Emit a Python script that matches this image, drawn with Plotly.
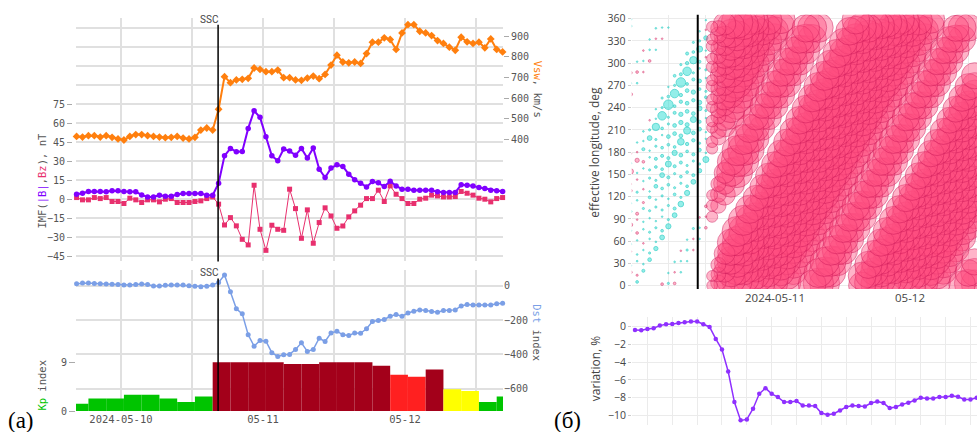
import numpy as np
import pandas as pd
import plotly.graph_objects as go

W, H = 977, 432          # target picture size
H_LAYOUT = 439           # page height that the photograph is squeezed from

# ---------------- panel (a) data ----------------
t_a = pd.date_range('2024-05-09 16:30', periods=73, freq='h')
vsw = [414, 411, 418, 418, 411, 418, 410, 402, 397, 414,
       423, 423, 418, 414, 411, 408, 410, 414, 406, 402,
       410, 445, 455, 445, 546, 704, 675, 688, 691, 696,
       746, 739, 728, 728, 736, 699, 699, 688, 686, 697,
       707, 694, 715, 760, 808, 775, 771, 775, 768, 816,
       871, 871, 892, 884, 836, 916, 956, 956, 924, 916,
       903, 879, 865, 847, 832, 895, 873, 865, 871, 844,
       887, 836, 824]
imf_b = [3.9, 4.7, 6.1, 6.1, 6.1, 5.8, 6.6, 6.6, 6.1, 5.8,
         5.8, 3.4, 1.8, 1.8, 3.2, 2.4, 2.4, 3.7, 4.5, 4.5,
         4.5, 4.5, 3.2, 3.2, 12.6, 34.2, 40.0, 37.4, 37.6, 55.8,
         69.7, 64.5, 49.2, 34.2, 30.3, 39.5, 37.9, 34.7, 40.0, 32.4,
         40.3, 23.7, 17.1, 24.5, 27.1, 25.8, 19.7, 15.3, 12.6, 9.7,
         13.9, 12.9, 10.0, 14.2, 10.5, 7.9, 7.9, 7.1, 7.1, 7.1,
         7.1, 5.8, 5.3, 5.3, 5.3, 11.3, 11.1, 10.5, 9.2, 8.4,
         7.1, 6.6, 6.1]
imf_bz = [1.3, -0.5, -0.5, 1.3, 0.5, 1.3, -1.8, -1.8, -3.4, 0.8,
          -0.5, -2.6, -0.5, -0.5, -2.1, 0.0, 0.5, -2.6, -2.6, -2.6,
          -1.8, -1.3, 0.5, 1.8, -3.9, -20.3, -14.5, -21.0, -31.6, -36.0,
          11.0, -23.7, -40.3, -20.5, -23.7, -24.5, 7.9, -7.4, -30.8, -8.4,
          -34.7, -18.4, -6.8, -13.2, -22.9, -21.1, -13.9, -9.2, -4.7, 0.5,
          0.5, 7.1, -1.8, 10.5, 3.9, 0.5, -3.4, -3.4, 0.0, 0.8,
          3.2, 2.6, 1.8, 1.8, 2.1, 6.1, 4.7, 3.2, 0.8, 0.0,
          -2.1, 0.5, 1.3]
dst = [11, 15, 15, 13, 11, 9, 8, 6, 4, 4,
       6, 9, 6, -2, -2, 2, 4, 4, 4, 0,
       -4, -6, -4, 4, 19, 62, -35, -135, -164, -286,
       -352, -319, -323, -390, -412, -402, -400, -371, -333, -383,
       -371, -306, -325, -275, -265, -286, -290, -275, -277, -251,
       -209, -203, -197, -178, -168, -178, -159, -149, -141, -145,
       -151, -155, -145, -145, -141, -118, -110, -112, -112, -112,
       -112, -106, -103]
kp_t = pd.date_range('2024-05-09 17:00', periods=25, freq='3h')
kp = [1.33, 2.33, 2.33, 3.0, 3.0, 2.33, 1.67, 2.67,
      9.0, 9.0, 9.0, 9.0, 8.67, 8.67, 9.0, 9.0, 9.0, 8.33,
      6.67, 6.33, 7.67, 4.0, 3.67, 1.67, 2.67]
ssc_a = '2024-05-10 16:25'
xticks_a = ['2024-05-10 00:00', '2024-05-10 12:00', '2024-05-11 00:00',
            '2024-05-11 12:00', '2024-05-12 00:00', '2024-05-12 12:00']
xlabels_a = ['2024-05-10', '', '05-11', '', '05-12', '']

# ---------------- panel (б) data ----------------
t_b = pd.date_range('2024-05-10 06:00', periods=56, freq='h')
var_pct = [-0.37, -0.41, -0.26, -0.19, 0.11, 0.26, 0.30, 0.41, 0.49, 0.56,
           0.56, 0.26, -0.04, -1.39, -2.58, -5.06, -8.50, -10.56, -10.45, -9.25,
           -7.57, -6.93, -7.57, -7.94, -8.50, -8.50, -8.39, -8.88, -8.88, -8.95,
           -9.74, -9.93, -9.81, -9.44, -9.06, -8.88, -8.95, -8.99, -8.61, -8.43,
           -8.61, -9.18, -9.06, -8.76, -8.58, -8.31, -8.01, -8.09, -8.09, -7.94,
           -7.94, -7.79, -7.90, -8.20, -8.20, -8.01]
# effective longitude of each station at 2024-05-11 00:00 UT
station_lon = [260, 269, 288, 297, 316, 326, 344, 352, 10, 21, 38, 47, 64, 75, 88,
               168, 183, 197]
station_factor = [1.0, 1.05, 0.95, 1.1, 1.0, 0.95, 1.1, 0.95, 1.05, 0.95, 1.1, 1.0, 1.0,
                  0.9, 0.95, 1.0, 1.05, 0.95]
# hourly variations (%) of each station before the storm onset (06-18 UT, 10 May)
station_pre = [
    [0.05, 0.08, 0.10, 0.15, 0.20, 0.25, 0.30, 0.25, 0.35, 0.30, 0.25, 0.20, 0.40],
    [0.03, -0.05, 0.03, 0.05, 0.03, 0.08, 0.05, 0.10, 0.05, 0.08, 0.10, 0.05, 0.03],
    [-0.08, 0.03, 0.02, 0.03, 0.05, 0.02, 0.05, 0.08, 0.05, 0.08, 0.05, 0.12, 0.02],
    [0.02, 0.03, -0.03, 0.05, 0.02, 0.05, 0.03, 0.05, 0.08, 0.05, 0.10, 0.05, 0.02],
    [-0.03, 0.02, 0.03, 0.02, 0.05, 0.05, 0.08, 0.05, 0.10, 0.08, 0.12, 0.15, 0.02],
    [0.03, -0.08, 0.02, 0.05, 0.03, 0.08, 0.10, 0.10, 0.15, 0.12, 0.15, 0.10, 0.05],
    [0.03, -0.03, 0.05, 0.08, 0.15, 0.25, 0.40, 0.30, 0.50, 0.55, 0.40, 0.25, 0.08],
    [-0.15, -0.10, -0.05, 0.02, 0.05, 0.08, 0.10, 0.08, 0.15, 0.18, 0.15, 0.20, 0.05],
    [0.05, 0.03, -0.03, 0.05, 0.08, 0.10, 0.08, 0.15, 0.20, 0.15, 0.12, 0.08, 0.02],
    [0.02, 0.05, 0.02, 0.05, 0.10, 0.08, 0.15, 0.15, 0.20, 0.15, 0.20, 0.15, 0.05],
    [-0.08, -0.03, 0.02, 0.03, 0.05, 0.02, 0.05, 0.10, 0.12, 0.15, 0.10, 0.03, -0.03],
    [-0.03, 0.02, -0.08, 0.02, 0.05, 0.08, 0.05, 0.08, 0.12, 0.08, 0.05, 0.08, 0.02],
    [-0.30, -0.20, 0.10, 0.25, 0.60, 0.80, 1.00, 0.80, 1.00, 0.80, 0.60, 0.40, 0.20],
    [0.03, -0.03, 0.02, 0.05, 0.02, 0.05, 0.08, 0.05, 0.10, 0.12, 0.08, 0.05, -0.03],
    [-0.03, 0.02, 0.03, -0.03, 0.02, 0.05, 0.02, 0.08, 0.05, 0.10, 0.05, 0.02, 0.02],
    [-0.12, 0.03, -0.03, -0.08, 0.02, -0.03, 0.02, -0.08, 0.03, 0.02, -0.03, 0.02, -0.08],
    [0.03, -0.08, 0.02, 0.03, -0.03, 0.02, 0.05, -0.03, 0.02, 0.05, -0.03, 0.02, -0.03],
    [-0.08, 0.02, -0.03, 0.02, 0.03, -0.08, 0.02, 0.03, -0.03, 0.02, 0.05, -0.03, -0.08],
]
ssc_b = '2024-05-10 16:42'
lon_ref_time = pd.Timestamp('2024-05-11 00:00')
EARTH_ROT = 15.0  # deg per hour

# ---------------- helpers ----------------
def fx(p):
    return p / W

def fy(p):
    return 1 - p / H

MONO = 'DejaVu Sans Mono'
SANS = 'Open Sans'
GREY = '#555555'
GRID_A = '#e0e0e0'
GRID_B = '#ebebeb'
C_VSW, C_B, C_BZ, C_DST = '#ff7f0e', '#8000ff', '#e8306e', '#7b9fe6'

fig = go.Figure()

def kp_color(v):
    if v >= 7.5:
        return '#a3001a'
    if v >= 5.5:
        return '#ff2020'
    if v >= 3.5:
        return '#ffff00'
    return '#00c400'

fig.add_trace(go.Bar(x=kp_t, y=kp, width=3 * 3600 * 1000,
                     marker=dict(color=[kp_color(v) for v in kp], line=dict(width=0)),
                     xaxis='x2', yaxis='y4', hoverinfo='skip'))
fig.add_trace(go.Scatter(x=t_a, y=dst, mode='lines+markers', xaxis='x2', yaxis='y3',
                         line=dict(color=C_DST, width=1.5),
                         marker=dict(size=5, color=C_DST), cliponaxis=False))
fig.add_trace(go.Scatter(x=t_a, y=imf_bz, mode='lines+markers', xaxis='x', yaxis='y',
                         line=dict(color=C_BZ, width=1),
                         marker=dict(size=5, symbol='square', color=C_BZ), cliponaxis=False))
fig.add_trace(go.Scatter(x=t_a, y=imf_b, mode='lines+markers', xaxis='x', yaxis='y',
                         line=dict(color=C_B, width=2),
                         marker=dict(size=5.5, color=C_B), cliponaxis=False))
fig.add_trace(go.Scatter(x=t_a, y=vsw, mode='lines+markers', xaxis='x', yaxis='y2',
                         line=dict(color=C_VSW, width=2),
                         marker=dict(size=6, symbol='diamond', color=C_VSW), cliponaxis=False))

# bubbles
hrs = (t_b - lon_ref_time) / pd.Timedelta(hours=1)
bx = {1: [], -1: []}
by = {1: [], -1: []}
bs = {1: [], -1: []}
for si, L in enumerate(station_lon):
    pre = station_pre[si]
    for k, t in enumerate(t_b):
        v = pre[k] if k < len(pre) else var_pct[k] * station_factor[si]
        sgn = 1 if v >= 0 else -1
        bx[sgn].append(t)
        by[sgn].append((L + EARTH_ROT * hrs[k]) % 360)
        bs[sgn].append(max(1.5, 9.5 * np.sqrt(abs(v))))

fig.add_trace(go.Scatter(x=bx[1], y=by[1], mode='markers', xaxis='x3', yaxis='y5',
                         marker=dict(size=bs[1], color='rgba(40,222,212,0.7)',
                                     line=dict(color='rgba(20,200,190,0.9)', width=1))))
fig.add_trace(go.Scatter(x=bx[-1], y=by[-1], mode='markers', xaxis='x3', yaxis='y5',
                         marker=dict(size=bs[-1], color='rgba(255,78,128,0.6)',
                                     line=dict(color='rgba(205,25,90,0.7)', width=1))))
fig.add_trace(go.Scatter(x=t_b, y=var_pct, mode='lines+markers', xaxis='x4', yaxis='y6',
                         line=dict(color='#8f30ff', width=1.5),
                         marker=dict(size=4.5, color='#8f30ff')))

tick_a = dict(family=MONO, size=10, color=GREY)
tick_b = dict(family=SANS, size=10.5, color='#444444')
RANGE_A = ['2024-05-09 16:24', '2024-05-12 16:34']

fig.update_layout(
    width=W, height=H_LAYOUT, margin=dict(l=0, r=0, t=0, b=0),
    paper_bgcolor='white', plot_bgcolor='white', showlegend=False,
    xaxis=dict(domain=[fx(76), fx(503)], anchor='y', type='date', range=RANGE_A,
               tickmode='array', tickvals=xticks_a, showticklabels=False,
               showgrid=True, gridcolor=GRID_A, gridwidth=1.5, zeroline=False, ticks=''),
    xaxis2=dict(domain=[fx(76), fx(503)], anchor='y3', type='date', range=RANGE_A,
                tickmode='array', tickvals=xticks_a, ticktext=xlabels_a,
                tickfont=dict(family=MONO, size=10.5, color=GREY),
                showgrid=True, gridcolor=GRID_A, gridwidth=1.5, zeroline=False, ticks=''),
    yaxis=dict(domain=[fy(259), fy(15)], anchor='free', position=fx(72),
               range=[-49, 142.8], tickmode='array', tickvals=list(range(-45, 76, 15)),
               ticks='outside', ticklen=5, tickcolor='#aaaaaa', tickfont=tick_a,
               showgrid=True, gridcolor=GRID_A, gridwidth=1.5, zeroline=False,
               minor=dict(tickmode='array', tickvals=[90, 105, 120, 135], showgrid=True,
                          gridcolor=GRID_A, gridwidth=1.5, ticks='')),
    yaxis2=dict(overlaying='y', side='right', anchor='free', position=fx(503),
                range=[-191.7, 988.5], tickmode='array', tickvals=[400, 500, 600, 700, 800, 900],
                ticks='outside', ticklen=5, tickcolor='#aaaaaa', tickfont=tick_a,
                showgrid=False, zeroline=False),
    yaxis3=dict(domain=[fy(409), fy(268)], anchor='free', side='right', position=fx(503),
                range=[-729.7, 88.8], tickmode='array', tickvals=[0, -200, -400, -600],
                ticks='', tickfont=tick_a,
                showgrid=True, gridcolor=GRID_A, gridwidth=1.5, zeroline=False),
    yaxis4=dict(overlaying='y3', side='left', anchor='free', position=fx(75),
                range=[0, 25.9], tickmode='array', tickvals=[0, 9],
                ticks='outside', ticklen=6, tickcolor='#aaaaaa', tickfont=tick_a,
                showgrid=False, zeroline=False),
    xaxis3=dict(domain=[fx(631.7), 1.0], anchor='y5', type='date',
                range=['2024-05-10 06:08', '2024-05-12 13:23'],
                tick0='2024-05-10 00:00', dtick=6 * 3600 * 1000, showticklabels=False,
                showgrid=True, gridcolor=GRID_B, zeroline=False, ticks=''),
    yaxis5=dict(domain=[fy(286.7), fy(11.7)], anchor='x3', range=[-4.6, 365.4],
                tick0=0, dtick=30, ticks='outside', ticklen=3, tickcolor='#cccccc',
                tickfont=tick_b, showgrid=True, gridcolor=GRID_B, zeroline=False),
    xaxis4=dict(domain=[fx(632), 1.0], anchor='y6', type='date',
                range=['2024-05-10 05:31', '2024-05-12 13:03'],
                tick0='2024-05-10 00:00', dtick=4 * 3600 * 1000, showticklabels=False,
                showgrid=True, gridcolor=GRID_B, zeroline=False, ticks=''),
    yaxis6=dict(domain=[fy(422.7), fy(315)], anchor='x4', range=[-11.05, 1.05],
                tick0=0, dtick=2, ticks='outside', ticklen=3, tickcolor='#cccccc',
                tickfont=tick_b, showgrid=True, gridcolor=GRID_B, zeroline=False),
)

# SSC lines
fig.add_shape(type='line', xref='x', yref='y domain', x0=ssc_a, x1=ssc_a, y0=0, y1=0.972,
              line=dict(color='black', width=1.5))
fig.add_shape(type='line', xref='x2', yref='y3 domain', x0=ssc_a, x1=ssc_a, y0=0, y1=0.943,
              line=dict(color='black', width=1.5))
fig.add_shape(type='line', xref='x3', yref='y5 domain', x0=ssc_b, x1=ssc_b, y0=0, y1=1,
              line=dict(color='black', width=2))

ann = []
def add_text(text, x, y, size, color='#555555', family=MONO, angle=0, xanchor='center',
             xref='paper', yref='paper', xshift=0):
    ann.append(dict(text=text, x=x, y=y, xref=xref, yref=yref, showarrow=False,
                    textangle=angle, xanchor=xanchor, yanchor='middle', xshift=xshift,
                    font=dict(family=family, size=size, color=color)))

add_text('SSC', ssc_a, fy(16.5), 10, '#444444', 'Roboto', xanchor='right', xref='x', xshift=3)
add_text('SSC', ssc_a, fy(270), 10, '#444444', 'Roboto', xanchor='right', xref='x2', xshift=3)
add_text('IMF(<span style="color:%s">|B|</span>,<span style="color:%s">Bz</span>), nT' % (C_B, C_BZ),
         fx(43), fy(178), 10.5, angle=-90)
add_text('<span style="color:%s">Vsw</span>, km/s' % C_VSW, fx(538), fy(86), 10.5, angle=90)
add_text('<span style="color:%s">Dst</span> index' % C_DST, fx(537), fy(330), 10.5, angle=90)
add_text('<span style="color:#00c400">Kp</span> index', fx(42.5), fy(383), 10.5, angle=-90)
add_text('(a)', fx(21), fy(418), 23, 'black', 'Liberation Serif')
add_text('(б)', fx(567), fy(418), 23, 'black', 'Liberation Serif')
add_text('effective longitude, deg', fx(595), fy(150), 12, '#444444', SANS, angle=-90)
add_text('variation, %', fx(595), fy(367), 12, '#444444', SANS, angle=-90)
add_text('2024-05-11', '2024-05-11 00:00', fy(295.5), 11.5, '#444444', SANS, xanchor='left', xref='x3')
add_text('05-12', '2024-05-12 00:00', fy(295.5), 11.5, '#444444', SANS, xanchor='left', xref='x3')
fig.update_layout(annotations=ann)

page_fix = (
    "document.documentElement.style.margin='0';"
    "document.documentElement.style.padding='0';"
    "document.documentElement.style.overflow='hidden';"
    "document.body.style.margin='0';"
    "document.body.style.padding='0';"
    "document.body.style.overflow='hidden';"
    "var gd=document.getElementById('{plot_id}');"
    "gd.style.position='fixed';gd.style.left='0px';gd.style.top='0px';"
)
fig.write_html('out.html', config={'displayModeBar': False}, post_script=page_fix)
